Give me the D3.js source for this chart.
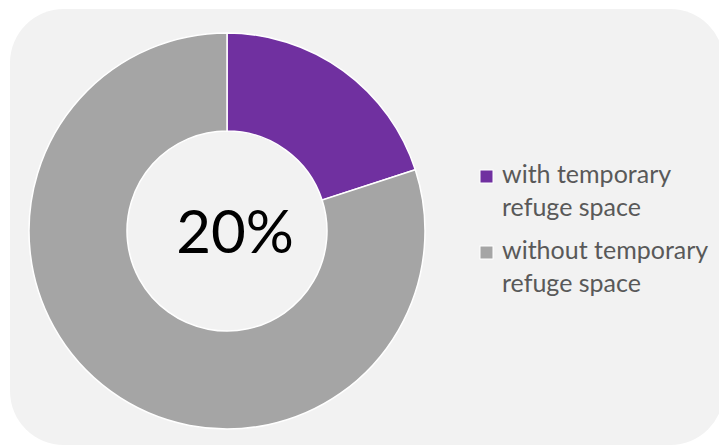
<!DOCTYPE html>
<html>
<head>
<meta charset="utf-8">
<script src="https://cdn.jsdelivr.net/npm/d3@7"></script>
<style>
  html, body { margin: 0; padding: 0; background: #fff; }
  svg { display: block; }
</style>
</head>
<body>
<svg id="chart" width="719" height="446"></svg>
<script>
// data
const categories = ['with temporary refuge space', 'without temporary refuge space'];
const values = [20, 80];
const colors = ['#7030A0', '#A5A5A5'];
const legendLines = [['with temporary', 'refuge space'], ['without temporary', 'refuge space']];
const centerLabel = '20%';

const svg = d3.select('#chart');
const font = 'Lato, "Open Sans", sans-serif';

// background panel
svg.append('rect')
  .attr('x', 10).attr('y', 9)
  .attr('width', 714).attr('height', 436)
  .attr('rx', 54).attr('ry', 54)
  .attr('fill', '#F2F2F2');

const cx = 227, cy = 231;
const outerR = 198, innerR = 100;

const pie = d3.pie().sort(null).value(d => d)(values);
const arc = d3.arc().innerRadius(innerR).outerRadius(outerR);

const g = svg.append('g').attr('transform', `translate(${cx},${cy})`);
g.selectAll('path')
  .data(pie)
  .join('path')
    .attr('d', arc)
    .attr('fill', (d, i) => colors[i])
    .attr('stroke', '#fff')
    .attr('stroke-width', 1.5);

g.append('text')
  .attr('x', 8).attr('y', 22)
  .attr('text-anchor', 'middle')
  .attr('font-family', font)
  .attr('font-size', 60)
  .attr('fill', '#000')
  .text(centerLabel);

// legend
const legend = svg.append('g');
const itemY = [170, 246];
categories.forEach((c, i) => {
  const item = legend.append('g').attr('transform', `translate(480,${itemY[i]})`);
  item.append('rect')
    .attr('x', 0).attr('y', 0)
    .attr('width', 13).attr('height', 13)
    .attr('fill', colors[i])
    .attr('stroke', '#fff')
    .attr('stroke-width', 1);
  legendLines[i].forEach((line, j) => {
    item.append('text')
      .attr('x', 22).attr('y', 13 + j * 33)
      .attr('font-family', font)
      .attr('font-size', 25)
      .attr('fill', '#595959')
      .text(line);
  });
});
</script>
</body>
</html>
